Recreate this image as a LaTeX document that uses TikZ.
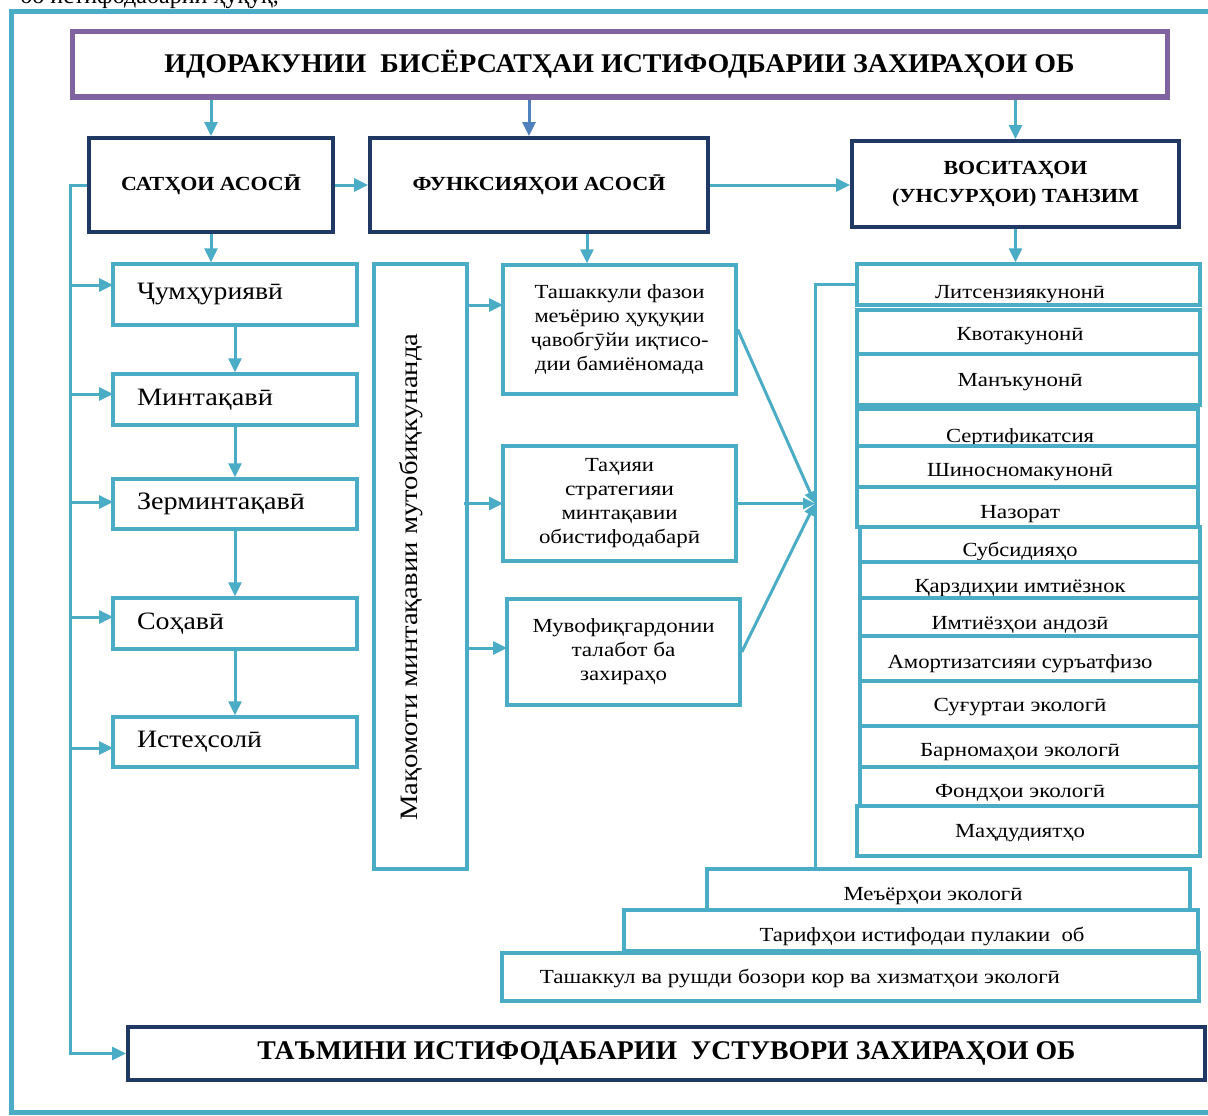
\documentclass[tikz,border=0pt]{standalone}
\usepackage{fontspec}
\setmainfont{Liberation Serif}
\usetikzlibrary{arrows.meta,calc}
\definecolor{lb}{HTML}{4BACC6}
\definecolor{pur}{HTML}{8064A2}
\definecolor{navy}{HTML}{1F3864}
\definecolor{ab}{HTML}{4F81BD}
\newcommand{\hf}[2]{\resizebox{#1}{\height}{#2}}
\begin{document}
\begin{tikzpicture}[x=1pt,y=-1pt,
  box/.style={rectangle,inner sep=0pt,fill=white},
  lbbox/.style={box,draw=lb,line width=3.5pt},
  nvbox/.style={box,draw=navy,line width=4pt},
  conn/.style={draw=lb,line width=3pt},
  arr/.style={conn,-{Triangle[length=14pt,width=13pt]}},
  sarr/.style={conn,-{Triangle[length=12pt,width=11pt]}},
  ttl/.style={font=\bfseries\fontsize{27}{32}\selectfont},
  hd/.style={font=\bfseries\fontsize{20}{28}\selectfont,align=center},
  lt/.style={font=\fontsize{25}{30}\selectfont},
  mt/.style={font=\fontsize{20}{24}\selectfont,align=center},
  rt/.style={font=\fontsize{20}{24}\selectfont,anchor=base,inner sep=0pt},
]
\useasboundingbox (0,0) rectangle (1208,1116);
\fill[white] (0,0) rectangle (1208,1116);
% line of text cut off at the top edge
\node[anchor=base west,inner sep=0pt,font=\fontsize{24}{28}\selectfont] (topt) at (20,4) {бо истифодабарии ҳуқуқ,};
% outer frame
\draw[lb,line width=5pt] (1210,12) -- (11,12) -- (11,1112) -- (1210,1112);

% title
\node[box,draw=pur,line width=5pt,minimum width=1095pt,minimum height=65pt,ttl] (title) at (619.5,64.5)
  {\hf{910pt}{ИДОРАКУНИИ\ \ БИСЁРСАТҲАИ ИСТИФОДБАРИИ ЗАХИРАҲОИ ОБ}};

% second row
\node[nvbox,minimum width=244pt,minimum height=94pt,hd] (sat) at (211,185) {\hf{180pt}{САТҲОИ АСОСӢ}};
\node[nvbox,minimum width=338pt,minimum height=94pt,hd] (fun) at (539,185) {\raisebox{5pt}{\hf{253pt}{ФУНКСИЯҲОИ АСОСӢ}}};
\node[nvbox,minimum width=327pt,minimum height=86pt,hd] (vos) at (1015.5,184) {\hf{144pt}{ВОСИТАҲОИ}\\\hf{247pt}{(УНСУРҲОИ) ТАНЗИМ}};

% left column
\tikzset{lcol/.style={lbbox,minimum width=244pt,lt,text width=196pt,inner xsep=24pt,align=left}}
\node[lcol,minimum height=61pt] (jum) at (235,294.5) {\hf{146pt}{Ҷумҳуриявӣ}};
\node[lcol,minimum height=51pt] (min) at (235,399.5) {\hf{136pt}{Минтақавӣ}};
\node[lcol,minimum height=50pt] (zer) at (235,504) {\hf{168pt}{Зерминтақавӣ}};
\node[lcol,minimum height=51pt] (soh) at (235,623.5) {\hf{87pt}{Соҳавӣ}};
\node[lcol,minimum height=50pt] (ist) at (235,742) {\hf{125pt}{Истеҳсолӣ}};

% vertical box
\node[lbbox,minimum width=93pt,minimum height=605pt] (mak) at (420.5,566.5) {};
\node[lt,rotate=90,inner sep=0pt] (makt) at (411,577) {\hf{487pt}{Мақомоти минтақавии мутобиқкунанда}};

% middle boxes
\node[lbbox,minimum width=233pt,minimum height=129pt,mt] (tash) at (619.5,329.5)
  {\hf{170pt}{Ташаккули фазои}\\\hf{170pt}{меъёрию ҳуқуқии}\\\hf{178pt}{ҷавобгӯйи иқтисо-}\\\hf{169pt}{дии бамиёномада}};
\node[lbbox,minimum width=233pt,minimum height=115pt,mt] (tah) at (619.5,503.5)
  {\hf{69pt}{Таҳияи}\\\hf{109pt}{стратегияи}\\\hf{116pt}{минтақавии}\\\hf{161pt}{обистифодабарӣ}};
\node[lbbox,minimum width=233pt,minimum height=106pt,mt] (muv) at (623.5,652)
  {\hf{182pt}{Мувофиқгардонии}\\\hf{104pt}{талабот ба}\\\hf{87pt}{захираҳо}};

% right column stack
\node[lbbox,minimum width=343pt,minimum height=41pt] (r1) at (1028.5,284.5) {};
\node[rt] (r1t) at (1020,298) {\hf{170pt}{Литсензиякунонӣ}};
\node[lbbox,minimum width=343pt,minimum height=44pt] (r2) at (1028.5,332) {};
\node[rt] (r2t) at (1020,340) {\hf{127pt}{Квотакунонӣ}};
\node[lbbox,minimum width=343pt,minimum height=51pt] (r3) at (1028.5,379.5) {};
\node[rt] (r3t) at (1020,386) {\hf{125pt}{Манъкунонӣ}};
\node[lbbox,minimum width=341pt,minimum height=37pt] (r4) at (1027.5,427.5) {};
\node[rt] (r4t) at (1020,442) {\hf{148pt}{Сертификатсия}};
\node[lbbox,minimum width=341pt,minimum height=41pt] (r5) at (1027.5,466.5) {};
\node[rt] (r5t) at (1020,476) {\hf{186pt}{Шиносномакунонӣ}};
\node[lbbox,minimum width=341pt,minimum height=40pt] (r6) at (1027.5,507) {};
\node[rt] (r6t) at (1020,518) {\hf{80pt}{Назорат}};
\node[lbbox,minimum width=340pt,minimum height=35pt] (r7) at (1030,544.5) {};
\node[rt] (r7t) at (1020,556) {\hf{115pt}{Субсидияҳо}};
\node[lbbox,minimum width=340pt,minimum height=36pt] (r8) at (1030,580) {};
\node[rt] (r8t) at (1020,592) {\hf{211pt}{Қарздиҳии имтиёзнок}};
\node[lbbox,minimum width=340pt,minimum height=38pt] (r9) at (1030,617) {};
\node[rt] (r9t) at (1020,629) {\hf{177pt}{Имтиёзҳои андозӣ}};
\node[lbbox,minimum width=340pt,minimum height=45pt] (r10) at (1030,658.5) {};
\node[rt] (r10t) at (1020,668) {\hf{265pt}{Амортизатсияи суръатфизо}};
\node[lbbox,minimum width=340pt,minimum height=45pt] (r11) at (1030,703.5) {};
\node[rt] (r11t) at (1020,711) {\hf{173pt}{Суғуртаи экологӣ}};
\node[lbbox,minimum width=340pt,minimum height=41pt] (r12) at (1030,746.5) {};
\node[rt] (r12t) at (1020,756) {\hf{200pt}{Барномаҳои экологӣ}};
\node[lbbox,minimum width=340pt,minimum height=39pt] (r13) at (1030,786.5) {};
\node[rt] (r13t) at (1020,797) {\hf{170pt}{Фондҳои экологӣ}};
\node[lbbox,minimum width=343pt,minimum height=50pt] (r14) at (1028.5,831) {};
\node[rt] (r14t) at (1020,837) {\hf{130pt}{Маҳдудиятҳо}};

% bottom stack
\node[lbbox,minimum width=483pt,minimum height=41pt] (me) at (948.5,889.5) {};
\node[rt] (met) at (933,900) {\hf{179pt}{Меъёрҳои экологӣ}};
\node[lbbox,minimum width=574pt,minimum height=41pt] (tar) at (911,930.5) {};
\node[rt] (tart) at (922,941) {\hf{325pt}{Тарифҳои истифодаи пулакии\ \ об}};
\node[lbbox,minimum width=697pt,minimum height=48pt] (tsh) at (850.5,977) {};
\node[rt] (tsht) at (800,983) {\hf{520pt}{Ташаккул ва рушди бозори кор ва хизматҳои экологӣ}};

% final box
\node[nvbox,minimum width=1077pt,minimum height=53pt,ttl] (bot) at (666.5,1053.5)
  {\hf{818pt}{ТАЪМИНИ ИСТИФОДАБАРИИ\ \ УСТУВОРИ ЗАХИРАҲОИ ОБ}};

% ---- connectors ----
\draw[arr] (title.south -| sat.north) -- (sat.north);
\draw[conn,draw=ab,-{Triangle[length=14pt,width=13pt]}] ([xshift=-10pt]title.south -| fun.north) -- ([xshift=-10pt]fun.north);
\draw[arr] (title.south -| vos.north) -- (vos.north);
\draw[arr] (sat.east) -- (fun.west);
\draw[arr] (fun.east) -- (fun.east -| vos.west);
\draw[arr] (sat.south) -- (sat.south |- jum.north);
\draw[arr] (jum.south) -- (min.north);
\draw[arr] (min.south) -- (zer.north);
\draw[arr] (zer.south) -- (soh.north);
\draw[arr] (soh.south) -- (ist.north);
\draw[arr] (vos.south) -- (vos.south |- r1.north);
\draw[arr] ([xshift=-32.5pt]tash.north |- fun.south) -- ([xshift=-32.5pt]tash.north);

% left bus
\coordinate (b0) at (70,185);
\coordinate (j1) at (113,285);
\coordinate (j2) at (113,394);
\coordinate (j3) at (113,502);
\coordinate (j4) at (113,617);
\coordinate (j5) at (113,748);
\draw[arr] (sat.west) -- (b0) -- (b0 |- bot.west) -- (bot.west);
\foreach \j in {j1,j2,j3,j4,j5} \draw[arr] (b0 |- \j) -- (\j);

% from vertical box
\coordinate (m1) at (503,305);
\coordinate (m2) at (503,503.5);
\coordinate (m3) at (507,648);
\draw[arr] (mak.east |- m1) -- (m1);
\draw[arr] ([xshift=-5pt]mak.east |- m2) -- (m2);
\draw[arr] (mak.east |- m3) -- (m3);

% convergence
\coordinate (vtop) at (815,284.5);
\coordinate (conv) at (vtop |- tah.east);
\draw[sarr] (tash.east) -- (conv);
\draw[sarr] (tah.east) -- (conv);
\draw[sarr] (muv.east) -- (conv);
\draw[conn] (r1.west) -- (vtop) -- (vtop |- me.north);
\end{tikzpicture}
\end{document}
